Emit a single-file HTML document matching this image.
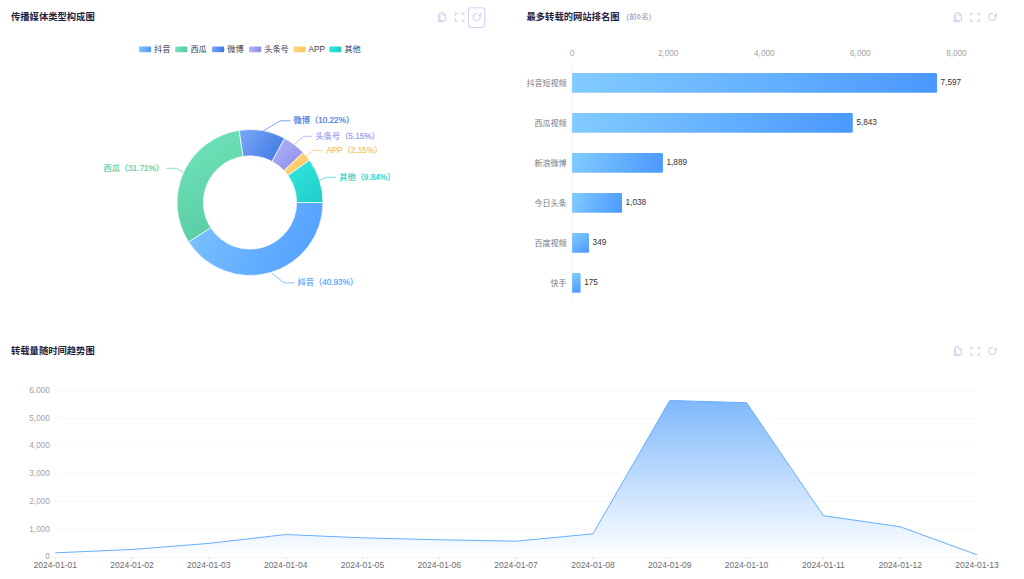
<!DOCTYPE html>
<html lang="zh-CN"><head><meta charset="utf-8"><title>传播分析</title>
<style>
html,body{margin:0;padding:0;background:#fff;width:1024px;height:579px;overflow:hidden}
svg{display:block;font-family:"Liberation Sans", "Noto Sans CJK SC", sans-serif}
</style></head><body>
<svg width="1024" height="579" viewBox="0 0 1024 579">
<defs>
<linearGradient id="l0" x1="0" y1="0" x2="1" y2="0"><stop offset="0" stop-color="#7ec5ff"/><stop offset="1" stop-color="#4d9bff"/></linearGradient>
<linearGradient id="l1" x1="0" y1="0" x2="1" y2="0"><stop offset="0" stop-color="#72e6bc"/><stop offset="1" stop-color="#56c79e"/></linearGradient>
<linearGradient id="l2" x1="0" y1="0" x2="1" y2="0"><stop offset="0" stop-color="#7aa8f7"/><stop offset="1" stop-color="#3b76e2"/></linearGradient>
<linearGradient id="l3" x1="0" y1="0" x2="1" y2="0"><stop offset="0" stop-color="#b4b6fa"/><stop offset="1" stop-color="#8b8be9"/></linearGradient>
<linearGradient id="l4" x1="0" y1="0" x2="1" y2="0"><stop offset="0" stop-color="#ffd980"/><stop offset="1" stop-color="#fbc35c"/></linearGradient>
<linearGradient id="l5" x1="0" y1="0" x2="1" y2="0"><stop offset="0" stop-color="#32e8e2"/><stop offset="1" stop-color="#20ccc6"/></linearGradient>
<linearGradient id="area" x1="0" y1="400" x2="0" y2="557" gradientUnits="userSpaceOnUse"><stop offset="0" stop-color="#7fb8fc"/><stop offset="1" stop-color="#ffffff"/></linearGradient>
<linearGradient id="p0" x1="188.54" y1="202.5" x2="323.0" y2="275.5" gradientUnits="userSpaceOnUse"><stop offset="0" stop-color="#7ec5ff"/><stop offset="1" stop-color="#4d9bff"/></linearGradient>
<linearGradient id="p1" x1="177.0" y1="130.3" x2="243.12" y2="241.89" gradientUnits="userSpaceOnUse"><stop offset="0" stop-color="#72e6bc"/><stop offset="1" stop-color="#56c79e"/></linearGradient>
<linearGradient id="p2" x1="239.21" y1="129.5" x2="284.6" y2="161.47" gradientUnits="userSpaceOnUse"><stop offset="0" stop-color="#7aa8f7"/><stop offset="1" stop-color="#3b76e2"/></linearGradient>
<linearGradient id="p3" x1="272.09" y1="138.22" x2="303.25" y2="170.62" gradientUnits="userSpaceOnUse"><stop offset="0" stop-color="#b4b6fa"/><stop offset="1" stop-color="#8b8be9"/></linearGradient>
<linearGradient id="p4" x1="283.99" y1="152.56" x2="309.49" y2="175.49" gradientUnits="userSpaceOnUse"><stop offset="0" stop-color="#ffd980"/><stop offset="1" stop-color="#fbc35c"/></linearGradient>
<linearGradient id="p5" x1="287.97" y1="160.19" x2="323.0" y2="202.5" gradientUnits="userSpaceOnUse"><stop offset="0" stop-color="#32e8e2"/><stop offset="1" stop-color="#20ccc6"/></linearGradient>
<linearGradient id="bar0" x1="572.2" y1="73" x2="937.0" y2="93" gradientUnits="userSpaceOnUse"><stop offset="0" stop-color="#82cbff"/><stop offset="1" stop-color="#4a98ff"/></linearGradient>
<linearGradient id="bar1" x1="572.2" y1="113" x2="852.77" y2="133" gradientUnits="userSpaceOnUse"><stop offset="0" stop-color="#82cbff"/><stop offset="1" stop-color="#4a98ff"/></linearGradient>
<linearGradient id="bar2" x1="572.2" y1="153" x2="662.91" y2="173" gradientUnits="userSpaceOnUse"><stop offset="0" stop-color="#82cbff"/><stop offset="1" stop-color="#4a98ff"/></linearGradient>
<linearGradient id="bar3" x1="572.2" y1="193" x2="622.04" y2="213" gradientUnits="userSpaceOnUse"><stop offset="0" stop-color="#82cbff"/><stop offset="1" stop-color="#4a98ff"/></linearGradient>
<linearGradient id="bar4" x1="572.2" y1="233" x2="588.96" y2="253" gradientUnits="userSpaceOnUse"><stop offset="0" stop-color="#82cbff"/><stop offset="1" stop-color="#4a98ff"/></linearGradient>
<linearGradient id="bar5" x1="572.2" y1="273" x2="580.6" y2="293" gradientUnits="userSpaceOnUse"><stop offset="0" stop-color="#82cbff"/><stop offset="1" stop-color="#4a98ff"/></linearGradient>
</defs>
<text x="11" y="19.8" font-size="9.3" font-weight="bold" fill="#1d2340">传播媒体类型构成图</text>
<text x="526.5" y="19.8" font-size="9.3" font-weight="bold" fill="#1d2340">最多转载的网站排名图</text>
<text x="626.5" y="19.4" font-size="7.4" letter-spacing="0.25" fill="#8c93a8">(前6名)</text>
<text x="11" y="353.8" font-size="9.3" font-weight="bold" fill="#1d2340">转载量随时间趋势图</text>
<path d="M438.5,14.399999999999999 V21.7 H444.2" fill="none" stroke="#d4d8ea" stroke-width="1.2"/>
<path d="M439.9,12.899999999999999 H443.2 L445.7,15.399999999999999 V20.5 H439.9 Z" fill="none" stroke="#d4d8ea" stroke-width="1.2" stroke-linejoin="round"/>
<path d="M443,13.1 V15.6 H445.5" fill="none" stroke="#d4d8ea" stroke-width="1"/>
<path d="M455.3,15.7 V13.299999999999999 H457.7 M461.3,13.299999999999999 H463.7 V15.7 M463.7,18.7 V21.099999999999998 H461.3 M457.7,21.099999999999998 H455.3 V18.7" fill="none" stroke="#d4d8ea" stroke-width="1.3"/>
<path d="M480.08,15.97 A3.6,3.6 0 1 1 477.53,13.42" fill="none" stroke="#d4d8ea" stroke-width="1.2"/>
<path d="M481.20,12.60 V16.30 H477.50 Z" fill="#d4d8ea"/>
<rect x="468.40" y="7.70" width="16.4" height="19.8" rx="3.2" fill="none" stroke="#cdd3fb" stroke-width="1.1"/>
<path d="M954.2,14.399999999999999 V21.7 H959.9000000000001" fill="none" stroke="#d4d8ea" stroke-width="1.2"/>
<path d="M955.6,12.899999999999999 H958.9000000000001 L961.4000000000001,15.399999999999999 V20.5 H955.6 Z" fill="none" stroke="#d4d8ea" stroke-width="1.2" stroke-linejoin="round"/>
<path d="M958.7,13.1 V15.6 H961.2" fill="none" stroke="#d4d8ea" stroke-width="1"/>
<path d="M971.0,15.7 V13.299999999999999 H973.4 M977.0,13.299999999999999 H979.4 V15.7 M979.4,18.7 V21.099999999999998 H977.0 M973.4,21.099999999999998 H971.0 V18.7" fill="none" stroke="#d4d8ea" stroke-width="1.3"/>
<path d="M995.78,15.97 A3.6,3.6 0 1 1 993.23,13.42" fill="none" stroke="#d4d8ea" stroke-width="1.2"/>
<path d="M996.90,12.60 V16.30 H993.20 Z" fill="#d4d8ea"/>
<path d="M954.2,348.4 V355.7 H959.9000000000001" fill="none" stroke="#d4d8ea" stroke-width="1.2"/>
<path d="M955.6,346.9 H958.9000000000001 L961.4000000000001,349.4 V354.5 H955.6 Z" fill="none" stroke="#d4d8ea" stroke-width="1.2" stroke-linejoin="round"/>
<path d="M958.7,347.09999999999997 V349.59999999999997 H961.2" fill="none" stroke="#d4d8ea" stroke-width="1"/>
<path d="M971.0,349.7 V347.3 H973.4 M977.0,347.3 H979.4 V349.7 M979.4,352.70000000000005 V355.1 H977.0 M973.4,355.1 H971.0 V352.70000000000005" fill="none" stroke="#d4d8ea" stroke-width="1.3"/>
<path d="M995.78,349.97 A3.6,3.6 0 1 1 993.23,347.42" fill="none" stroke="#d4d8ea" stroke-width="1.2"/>
<path d="M996.90,346.60 V350.30 H993.20 Z" fill="#d4d8ea"/>
<rect x="138.9" y="46.5" width="12.2" height="5.8" rx="1.3" fill="url(#l0)"/>
<text x="154.1" y="52" font-size="8.2" fill="#333a4d">抖音</text>
<rect x="175.2" y="46.5" width="12.2" height="5.8" rx="1.3" fill="url(#l1)"/>
<text x="190.39999999999998" y="52" font-size="8.2" fill="#333a4d">西瓜</text>
<rect x="212" y="46.5" width="12.2" height="5.8" rx="1.3" fill="url(#l2)"/>
<text x="227.2" y="52" font-size="8.2" fill="#333a4d">微博</text>
<rect x="249" y="46.5" width="12.2" height="5.8" rx="1.3" fill="url(#l3)"/>
<text x="264.2" y="52" font-size="8.2" fill="#333a4d">头条号</text>
<rect x="293.3" y="46.5" width="12.2" height="5.8" rx="1.3" fill="url(#l4)"/>
<text x="308.5" y="52" font-size="8.2" fill="#333a4d">APP</text>
<rect x="329.2" y="46.5" width="12.2" height="5.8" rx="1.3" fill="url(#l5)"/>
<text x="344.4" y="52" font-size="8.2" fill="#333a4d">其他</text>
<path d="M323.00,202.50 A73,73 0 0 1 188.54,241.89 L210.76,227.64 A46.6,46.6 0 0 0 296.60,202.50 Z" fill="url(#p0)" stroke="#fff" stroke-width="0.7"/>
<path d="M188.54,241.89 A73,73 0 0 1 239.21,130.30 L243.12,156.41 A46.6,46.6 0 0 0 210.76,227.64 Z" fill="url(#p1)" stroke="#fff" stroke-width="0.7"/>
<path d="M239.21,130.30 A73,73 0 0 1 284.60,138.22 L272.09,161.47 A46.6,46.6 0 0 0 243.12,156.41 Z" fill="url(#p2)" stroke="#fff" stroke-width="0.7"/>
<path d="M284.60,138.22 A73,73 0 0 1 303.25,152.56 L283.99,170.62 A46.6,46.6 0 0 0 272.09,161.47 Z" fill="url(#p3)" stroke="#fff" stroke-width="0.7"/>
<path d="M303.25,152.56 A73,73 0 0 1 309.49,160.19 L287.97,175.49 A46.6,46.6 0 0 0 283.99,170.62 Z" fill="url(#p4)" stroke="#fff" stroke-width="0.7"/>
<path d="M309.49,160.19 A73,73 0 0 1 323.00,202.50 L296.60,202.50 A46.6,46.6 0 0 0 287.97,175.49 Z" fill="url(#p5)" stroke="#fff" stroke-width="0.7"/>
<polyline points="271.6,273.1 284.3,282.9 294.8,282.9" fill="none" stroke="#5aa5ff" stroke-width="0.7"/>
<text x="297.6" y="284.7" font-size="8.2" fill="#5aa5ff" stroke="#5aa5ff" stroke-width="0.22" text-anchor="start">抖音（40.93%）</text>
<polyline points="183.2,172.6 176.5,168.3 166.5,168.3" fill="none" stroke="#5ccfa5" stroke-width="0.7"/>
<text x="164" y="170.9" font-size="8.2" fill="#5ccfa5" stroke="#5ccfa5" stroke-width="0.22" text-anchor="end">西瓜（31.71%）</text>
<polyline points="263.2,130.9 280.3,120.8 290.5,120.8" fill="none" stroke="#4a80e6" stroke-width="0.7"/>
<text x="293.6" y="123.4" font-size="8.2" fill="#4a80e6" stroke="#4a80e6" stroke-width="0.22" text-anchor="start">微博（10.22%）</text>
<polyline points="294.8,144 303.5,136.3 312.2,136.3" fill="none" stroke="#9a9cf0" stroke-width="0.7"/>
<text x="315.6" y="139.1" font-size="8.2" fill="#9a9cf0" stroke="#9a9cf0" stroke-width="0.22" text-anchor="start">头条号（5.15%）</text>
<polyline points="306.7,155.9 313,150.4 322.7,150.4" fill="none" stroke="#fbc45e" stroke-width="0.7"/>
<text x="326.4" y="152.8" font-size="8.2" fill="#fbc45e" stroke="#fbc45e" stroke-width="0.22" text-anchor="start">APP（2.15%）</text>
<polyline points="320.2,180.1 326,177.3 336.2,177.3" fill="none" stroke="#27d3cd" stroke-width="0.7"/>
<text x="339.3" y="179.9" font-size="8.2" fill="#27d3cd" stroke="#27d3cd" stroke-width="0.22" text-anchor="start">其他（9.84%）</text>
<text x="572.2" y="55.7" font-size="8.2" fill="#a0a2a8" text-anchor="middle">0</text>
<text x="668.2" y="55.7" font-size="8.2" fill="#a0a2a8" text-anchor="middle">2,000</text>
<text x="764.3" y="55.7" font-size="8.2" fill="#a0a2a8" text-anchor="middle">4,000</text>
<text x="860.3" y="55.7" font-size="8.2" fill="#a0a2a8" text-anchor="middle">6,000</text>
<text x="956.4" y="55.7" font-size="8.2" fill="#a0a2a8" text-anchor="middle">8,000</text>
<line x1="572.2" y1="63" x2="572.2" y2="303" stroke="#e4e5e8" stroke-width="0.6"/>
<path d="M572.1,73 H935.80 Q937.00,73 937.00,74.2 V91.6 Q937.00,92.8 935.80,92.8 H572.1 Z" fill="url(#bar0)"/>
<line x1="568.7" y1="83" x2="572.2" y2="83" stroke="#e4e5e8" stroke-width="0.6"/>
<text x="566.6" y="85.6" font-size="8" fill="#777a82" text-anchor="end">抖音短视频</text>
<text x="940.6" y="85.3" font-size="8.2" fill="#333">7,597</text>
<path d="M572.1,113 H851.57 Q852.77,113 852.77,114.2 V131.6 Q852.77,132.8 851.57,132.8 H572.1 Z" fill="url(#bar1)"/>
<line x1="568.7" y1="123" x2="572.2" y2="123" stroke="#e4e5e8" stroke-width="0.6"/>
<text x="566.6" y="125.6" font-size="8" fill="#777a82" text-anchor="end">西瓜视频</text>
<text x="856.4" y="125.3" font-size="8.2" fill="#333">5,843</text>
<path d="M572.1,153 H661.71 Q662.91,153 662.91,154.2 V171.6 Q662.91,172.8 661.71,172.8 H572.1 Z" fill="url(#bar2)"/>
<line x1="568.7" y1="163" x2="572.2" y2="163" stroke="#e4e5e8" stroke-width="0.6"/>
<text x="566.6" y="165.6" font-size="8" fill="#777a82" text-anchor="end">新浪微博</text>
<text x="666.5" y="165.3" font-size="8.2" fill="#333">1,889</text>
<path d="M572.1,193 H620.84 Q622.04,193 622.04,194.2 V211.6 Q622.04,212.8 620.84,212.8 H572.1 Z" fill="url(#bar3)"/>
<line x1="568.7" y1="203" x2="572.2" y2="203" stroke="#e4e5e8" stroke-width="0.6"/>
<text x="566.6" y="205.6" font-size="8" fill="#777a82" text-anchor="end">今日头条</text>
<text x="625.6" y="205.3" font-size="8.2" fill="#333">1,038</text>
<path d="M572.1,233 H587.76 Q588.96,233 588.96,234.2 V251.6 Q588.96,252.8 587.76,252.8 H572.1 Z" fill="url(#bar4)"/>
<line x1="568.7" y1="243" x2="572.2" y2="243" stroke="#e4e5e8" stroke-width="0.6"/>
<text x="566.6" y="245.6" font-size="8" fill="#777a82" text-anchor="end">百度视频</text>
<text x="592.6" y="245.3" font-size="8.2" fill="#333">349</text>
<path d="M572.1,273 H579.40 Q580.60,273 580.60,274.2 V291.6 Q580.60,292.8 579.40,292.8 H572.1 Z" fill="url(#bar5)"/>
<line x1="568.7" y1="283" x2="572.2" y2="283" stroke="#e4e5e8" stroke-width="0.6"/>
<text x="566.6" y="285.6" font-size="8" fill="#777a82" text-anchor="end">快手</text>
<text x="584.2" y="285.3" font-size="8.2" fill="#333">175</text>
<line x1="55.2" y1="557.00" x2="977" y2="557.00" stroke="#dfe1e6" stroke-width="0.7"/>
<text x="49.8" y="559.4" font-size="8.2" fill="#a0a2a8" text-anchor="end">0</text>
<line x1="55.2" y1="529.25" x2="977" y2="529.25" stroke="#f4f5f7" stroke-width="0.7"/>
<text x="49.8" y="531.6" font-size="8.2" fill="#a0a2a8" text-anchor="end">1,000</text>
<line x1="55.2" y1="501.50" x2="977" y2="501.50" stroke="#f4f5f7" stroke-width="0.7"/>
<text x="49.8" y="503.9" font-size="8.2" fill="#a0a2a8" text-anchor="end">2,000</text>
<line x1="55.2" y1="473.75" x2="977" y2="473.75" stroke="#f4f5f7" stroke-width="0.7"/>
<text x="49.8" y="476.1" font-size="8.2" fill="#a0a2a8" text-anchor="end">3,000</text>
<line x1="55.2" y1="446.00" x2="977" y2="446.00" stroke="#f4f5f7" stroke-width="0.7"/>
<text x="49.8" y="448.4" font-size="8.2" fill="#a0a2a8" text-anchor="end">4,000</text>
<line x1="55.2" y1="418.25" x2="977" y2="418.25" stroke="#f4f5f7" stroke-width="0.7"/>
<text x="49.8" y="420.6" font-size="8.2" fill="#a0a2a8" text-anchor="end">5,000</text>
<line x1="55.2" y1="390.50" x2="977" y2="390.50" stroke="#f4f5f7" stroke-width="0.7"/>
<text x="49.8" y="392.9" font-size="8.2" fill="#a0a2a8" text-anchor="end">6,000</text>
<path d="M55.20,552.84 L132.02,549.51 L208.83,543.40 L285.65,534.52 L362.47,537.85 L439.28,539.79 L516.10,541.18 L592.92,533.83 L669.73,400.49 L746.55,402.71 L823.37,515.65 L900.18,526.75 L977.00,554.78 L977,557 L55.2,557 Z" fill="url(#area)"/>
<path d="M55.20,552.84 L132.02,549.51 L208.83,543.40 L285.65,534.52 L362.47,537.85 L439.28,539.79 L516.10,541.18 L592.92,533.83 L669.73,400.49 L746.55,402.71 L823.37,515.65 L900.18,526.75 L977.00,554.78" fill="none" stroke="#68aeff" stroke-width="1" stroke-linejoin="round"/>
<line x1="55.20" y1="557" x2="55.20" y2="560" stroke="#e0e3ea" stroke-width="0.7"/>
<text x="55.20" y="568.1" font-size="8.5" fill="#6a6c72" text-anchor="middle">2024-01-01</text>
<line x1="132.02" y1="557" x2="132.02" y2="560" stroke="#e0e3ea" stroke-width="0.7"/>
<text x="132.02" y="568.1" font-size="8.5" fill="#6a6c72" text-anchor="middle">2024-01-02</text>
<line x1="208.83" y1="557" x2="208.83" y2="560" stroke="#e0e3ea" stroke-width="0.7"/>
<text x="208.83" y="568.1" font-size="8.5" fill="#6a6c72" text-anchor="middle">2024-01-03</text>
<line x1="285.65" y1="557" x2="285.65" y2="560" stroke="#e0e3ea" stroke-width="0.7"/>
<text x="285.65" y="568.1" font-size="8.5" fill="#6a6c72" text-anchor="middle">2024-01-04</text>
<line x1="362.47" y1="557" x2="362.47" y2="560" stroke="#e0e3ea" stroke-width="0.7"/>
<text x="362.47" y="568.1" font-size="8.5" fill="#6a6c72" text-anchor="middle">2024-01-05</text>
<line x1="439.28" y1="557" x2="439.28" y2="560" stroke="#e0e3ea" stroke-width="0.7"/>
<text x="439.28" y="568.1" font-size="8.5" fill="#6a6c72" text-anchor="middle">2024-01-06</text>
<line x1="516.10" y1="557" x2="516.10" y2="560" stroke="#e0e3ea" stroke-width="0.7"/>
<text x="516.10" y="568.1" font-size="8.5" fill="#6a6c72" text-anchor="middle">2024-01-07</text>
<line x1="592.92" y1="557" x2="592.92" y2="560" stroke="#e0e3ea" stroke-width="0.7"/>
<text x="592.92" y="568.1" font-size="8.5" fill="#6a6c72" text-anchor="middle">2024-01-08</text>
<line x1="669.73" y1="557" x2="669.73" y2="560" stroke="#e0e3ea" stroke-width="0.7"/>
<text x="669.73" y="568.1" font-size="8.5" fill="#6a6c72" text-anchor="middle">2024-01-09</text>
<line x1="746.55" y1="557" x2="746.55" y2="560" stroke="#e0e3ea" stroke-width="0.7"/>
<text x="746.55" y="568.1" font-size="8.5" fill="#6a6c72" text-anchor="middle">2024-01-10</text>
<line x1="823.37" y1="557" x2="823.37" y2="560" stroke="#e0e3ea" stroke-width="0.7"/>
<text x="823.37" y="568.1" font-size="8.5" fill="#6a6c72" text-anchor="middle">2024-01-11</text>
<line x1="900.18" y1="557" x2="900.18" y2="560" stroke="#e0e3ea" stroke-width="0.7"/>
<text x="900.18" y="568.1" font-size="8.5" fill="#6a6c72" text-anchor="middle">2024-01-12</text>
<line x1="977.00" y1="557" x2="977.00" y2="560" stroke="#e0e3ea" stroke-width="0.7"/>
<text x="977.00" y="568.1" font-size="8.5" fill="#6a6c72" text-anchor="middle">2024-01-13</text>
</svg>
</body></html>
